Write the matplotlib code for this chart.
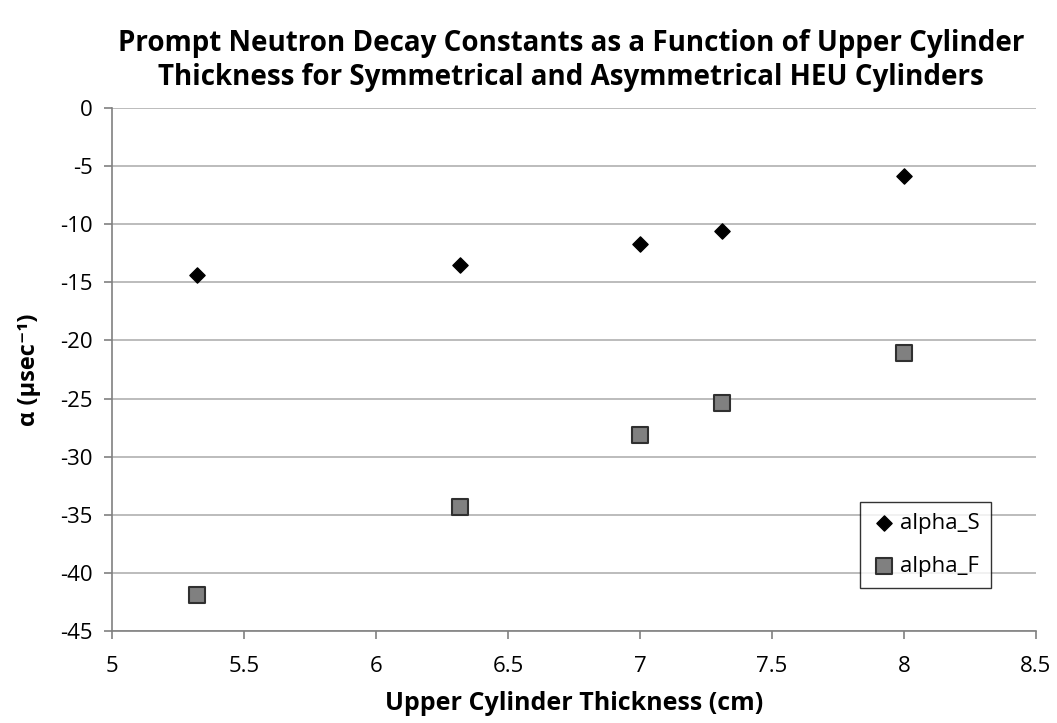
import matplotlib.pyplot as plt
import numpy as np

thickness = [5.32, 6.32, 7.0, 7.31, 8.0]
alpha_s = [-14.4, -13.5, -11.7, -10.6, -5.9]
alpha_f = [-41.9, -34.3, -28.1, -25.4, -21.1]

x_ticks = [5, 5.5, 6, 6.5, 7, 7.5, 8, 8.5]
y_ticks = [0, -5, -10, -15, -20, -25, -30, -35, -40, -45]

plt.rcParams['font.family'] = ['Open Sans', 'DejaVu Sans']
plt.rcParams['axes.unicode_minus'] = False

fig = plt.figure(figsize=(10.57, 7.23), dpi=100)
ax = fig.add_axes([0.106, 0.127, 0.874, 0.724])

ax.scatter(thickness, alpha_s, marker='D', s=60, color='black', label='alpha_S', zorder=3)
ax.scatter(thickness, alpha_f, marker='s', s=120, facecolor='#808080', edgecolor='#303030',
           linewidths=1.5, label='alpha_F', zorder=3)

ax.set_xlim(5, 8.5)
ax.set_ylim(-45, 0)
ax.set_xticks(x_ticks)
ax.set_xticklabels([f'{t:g}' for t in x_ticks])
ax.set_yticks(y_ticks)
ax.yaxis.grid(True, color='#b0b0b0', linewidth=1.2)
ax.set_axisbelow(True)
for side in ['top', 'right']:
    ax.spines[side].set_visible(False)
for side in ['left', 'bottom']:
    ax.spines[side].set_color('#808080')
    ax.spines[side].set_linewidth(1.2)
ax.tick_params(axis='both', labelsize=16, color='#808080', length=6, width=1.2, pad=8)
ax.tick_params(axis='x', pad=12)

ax.set_xlabel('Upper Cylinder Thickness (cm)', fontsize=18, fontweight='bold', labelpad=10)
ax.set_ylabel('α (µsec⁻¹)', fontsize=17, fontweight='bold', labelpad=14)
fig.suptitle('Prompt Neutron Decay Constants as a Function of Upper Cylinder\n'
             'Thickness for Symmetrical and Asymmetrical HEU Cylinders',
             fontsize=20, fontweight='bold', x=0.54, y=0.96, linespacing=1.25)

leg = ax.legend(loc='lower right', bbox_to_anchor=(0.951, 0.082), fontsize=16, frameon=True,
                fancybox=False, edgecolor='black', labelspacing=1.0, handletextpad=0.1,
                handlelength=1.2, borderpad=0.5, borderaxespad=0, scatterpoints=1)
leg.get_frame().set_linewidth(1.0)

fig.savefig('out.png', dpi=100)
